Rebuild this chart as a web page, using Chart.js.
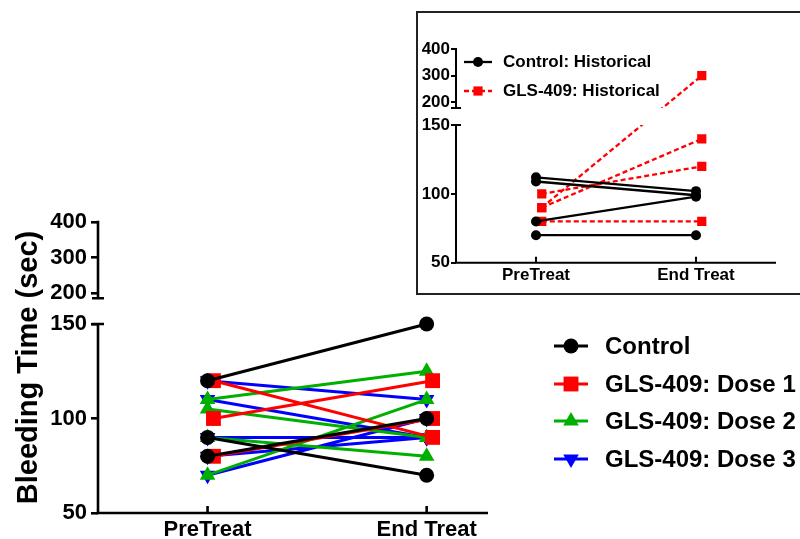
<!DOCTYPE html>
<html>
<head>
<meta charset="utf-8">
<script src="https://cdn.jsdelivr.net/npm/chart.js@4.4.1/dist/chart.umd.min.js"></script>
<style>
  html, body { margin: 0; padding: 0; background: #fff; }
  body { width: 800px; height: 539px; position: relative; overflow: hidden; font-family: Arial, "Liberation Sans", sans-serif; }
  #mainWrap { position: absolute; left: 0; top: 200px; width: 500px; height: 339px; }
  #insetBox { position: absolute; left: 416px; top: 11px; width: 400px; height: 284px; border: 2px solid #222; box-sizing: border-box; background: #fff; }
  #insetWrap { position: absolute; left: 417px; top: 12px; width: 383px; height: 282px; }
  .legend { position: absolute; font-weight: bold; color: #000; }
  .legend .row { display: flex; align-items: center; white-space: nowrap; }
  .legend canvas { display: block; }
  #mainLegend { left: 553px; top: 327px; font-size: 24px; }
  #mainLegend .row { height: 37.7px; }
  #mainLegend .txt { margin-left: 16px; }
  #insetLegend { left: 463px; top: 48px; font-size: 17px; }
  #insetLegend .row { height: 28.5px; }
  #insetLegend .txt { margin-left: 10px; }
</style>
</head>
<body>
<div id="mainWrap"><canvas id="mainChart"></canvas></div>
<div id="insetBox"></div>
<div id="insetWrap"><canvas id="insetChart"></canvas></div>
<div id="mainLegend" class="legend"></div>
<div id="insetLegend" class="legend"></div>
<script>
// Categories and tick labels
const xLabels = ['PreTreat', 'End Treat'];
const yTicks = [50, 100, 150, 200, 300, 400];

// Main panel: one line per subject, PreTreat -> End Treat
const groupNames = ['Control', 'GLS-409: Dose 1', 'GLS-409: Dose 2', 'GLS-409: Dose 3'];
const controlPre = [120, 90, 80];
const controlEnd = [150, 70, 100];
const dose1Pre = [120, 100, 80];
const dose1End = [90, 120, 100];
const dose2Pre = [110, 105, 90, 70];
const dose2End = [125, 90, 80, 110];
const dose3Pre = [120, 110, 90, 80, 70];
const dose3End = [110, 90, 90, 90, 100];

// Inset: historical data
const histNames = ['Control: Historical', 'GLS-409: Historical'];
const histControlPre = [112, 109, 80, 70];
const histControlEnd = [102, 99, 98, 70];
const histGlsPre = [100, 90, 90, 80];
const histGlsEnd = [120, 300, 140, 80];

const FONT = 'Arial, "Liberation Sans", sans-serif';
const BLACK = '#000000', RED = '#ff0000', GREEN = '#00b000', BLUE = '#0000ff';

// y axis with a break: lower part 50-150, upper part ~185-400
class BrokenScale extends Chart.LinearScale {
    static id = 'broken';
    _frac(v) {
        const segs = this.options.segments;
        const first = segs[0];
        if (v <= first.hi) return first.f0 + (v - first.lo) / (first.hi - first.lo) * (first.f1 - first.f0);
        for (let i = 1; i < segs.length; i++) {
            const p = segs[i - 1], s = segs[i];
            if (v < s.lo) return p.f1 + (v - p.hi) / (s.lo - p.hi) * (s.f0 - p.f1);
            if (v <= s.hi || i === segs.length - 1) return s.f0 + (v - s.lo) / (s.hi - s.lo) * (s.f1 - s.f0);
        }
    }
    getPixelForValue(value) {
        if (value === null || value === undefined || isNaN(value)) return NaN;
        return this.bottom - this._frac(value) * (this.bottom - this.top);
    }
    getValueForPixel(pixel) {
        const f = (this.bottom - pixel) / (this.bottom - this.top);
        const s = this.options.segments[0];
        return s.lo + (f - s.f0) / (s.f1 - s.f0) * (s.hi - s.lo);
    }
}
Chart.register(BrokenScale);

// draws the broken y axis, the x axis and inward x ticks; optionally hides lines inside the gap
const brokenAxis = {
    id: 'brokenAxis',
    beforeDatasetsDraw(chart, args, opts) {
        if (!opts.clipGap) return;
        const y = chart.scales.y, segs = y.options.segments, ctx = chart.ctx;
        const gapTop = y.getPixelForValue(segs[1].lo);
        const gapBottom = y.getPixelForValue(segs[0].hi);
        ctx.save();
        ctx.beginPath();
        ctx.rect(0, 0, chart.width, gapTop);
        ctx.rect(0, gapBottom, chart.width, chart.height - gapBottom);
        ctx.clip();
    },
    afterDatasetsDraw(chart, args, opts) {
        if (opts.clipGap) chart.ctx.restore();
    },
    afterDraw(chart, args, opts) {
        const ctx = chart.ctx, a = chart.chartArea, y = chart.scales.y, x = chart.scales.x;
        const segs = y.options.segments;
        ctx.save();
        ctx.strokeStyle = '#000';
        ctx.lineWidth = opts.width;
        ctx.beginPath();
        segs.forEach((s, i) => {
            const yb = y.getPixelForValue(s.lo), yt = y.getPixelForValue(s.hi);
            ctx.moveTo(a.left, yb + (i === 0 ? opts.width / 2 : 0));
            ctx.lineTo(a.left, yt - (i === segs.length - 1 ? opts.width / 2 : 0));
            if (i < segs.length - 1) {
                ctx.moveTo(a.left - opts.cap, yt);
                ctx.lineTo(a.left + opts.cap, yt);
            }
            if (i > 0) {
                ctx.moveTo(a.left - opts.cap, yb);
                ctx.lineTo(a.left + opts.cap, yb);
            }
        });
        ctx.moveTo(a.left - opts.width / 2, a.bottom);
        ctx.lineTo(a.right, a.bottom);
        x.ticks.forEach(t => {
            const px = x.getPixelForValue(t.value);
            ctx.moveTo(px, a.bottom);
            ctx.lineTo(px, a.bottom - opts.xTick);
        });
        ctx.stroke();
        ctx.restore();
    }
};

function pairs(pre, end) {
    const pts = [];
    pre.forEach((v, i) => {
        pts.push({x: 0, y: v}, {x: 1, y: end[i]}, {x: 1, y: null});
    });
    return pts;
}

function series(label, pre, end, color, style, extra) {
    return Object.assign({
        label: label,
        data: pairs(pre, end),
        borderColor: color,
        backgroundColor: color,
        pointBackgroundColor: color,
        pointBorderColor: color,
        pointBorderWidth: 0,
        pointStyle: style,
        spanGaps: false,
        tension: 0,
        fill: false
    }, extra);
}

function xAxis(min, max, size, pad, height) {
    return {
        type: 'linear', min: min, max: max,
        afterBuildTicks: s => { s.ticks = xLabels.map((l, i) => ({value: i})); },
        afterFit: s => { s.height = height; },
        border: {display: false},
        grid: {display: false, drawTicks: false},
        ticks: {
            autoSkip: false, maxRotation: 0, padding: pad, color: '#000',
            font: {family: FONT, size: size, weight: 'bold'},
            callback: (v, i) => xLabels[i]
        }
    };
}

function yAxis(segments, width, size, tickLen, pad, lineW, title) {
    return {
        type: 'broken', min: 50, max: 400,
        segments: segments,
        afterBuildTicks: s => { s.ticks = yTicks.map(v => ({value: v})); },
        afterFit: s => { s.width = width; },
        border: {display: false},
        grid: {display: true, drawOnChartArea: false, drawTicks: true, tickLength: tickLen,
               tickWidth: lineW, tickColor: '#000', color: '#000', lineWidth: lineW},
        ticks: {autoSkip: false, padding: pad, color: '#000',
                font: {family: FONT, size: size, weight: 'bold'},
                callback: v => String(v)},
        title: title
    };
}

// Main chart
const mainStyles = [
    {color: BLACK, style: 'circle', rot: 0, r: 7.5},
    {color: RED, style: 'rect', rot: 0, r: 10.5},
    {color: GREEN, style: 'triangle', rot: 0, r: 9},
    {color: BLUE, style: 'triangle', rot: 180, r: 9}
];
const mainData = [[controlPre, controlEnd], [dose1Pre, dose1End], [dose2Pre, dose2End], [dose3Pre, dose3End]];

new Chart(document.getElementById('mainChart'), {
    type: 'line',
    data: {
        datasets: mainData.map((d, i) => series(groupNames[i], d[0], d[1], mainStyles[i].color, mainStyles[i].style, {
            borderWidth: 3,
            pointRadius: mainStyles[i].r,
            pointRotation: mainStyles[i].rot,
            xAxisID: i === 1 ? 'xj' : 'x'
        }))
    },
    options: {
        responsive: true,
        maintainAspectRatio: false,
        animation: false,
        events: [],
        layout: {padding: {top: 22, right: 12, bottom: 0, left: 0}},
        plugins: {
            legend: {display: false},
            tooltip: {enabled: false},
            brokenAxis: {width: 2.6, cap: 6, xTick: 7, clipGap: false}
        },
        scales: {
            x: xAxis(-0.5, 1.28, 22, 4, 26),
            xj: {type: 'linear', display: false, min: -0.527, max: 1.253},
            y: yAxis([{lo: 50, hi: 150, f0: 0, f1: 0.6495}, {lo: 185, hi: 400, f0: 0.738, f1: 1}], 98, 22, 7, 4, 2.6, {
                display: true, text: 'Bleeding Time (sec)', color: '#000',
                font: {family: FONT, size: 29, weight: 'bold'}, padding: {top: 12, bottom: 0}
            })
        }
    },
    plugins: [brokenAxis]
});

// Inset chart
const histStyles = [
    {color: BLACK, style: 'circle', r: 5, dash: []},
    {color: RED, style: 'rect', r: 6.5, dash: [5, 3]}
];
const histData = [[histControlPre, histControlEnd], [histGlsPre, histGlsEnd]];

new Chart(document.getElementById('insetChart'), {
    type: 'line',
    data: {
        datasets: histData.map((d, i) => series(histNames[i], d[0], d[1], histStyles[i].color, histStyles[i].style, {
            borderWidth: 2.3,
            borderDash: histStyles[i].dash,
            pointRadius: histStyles[i].r,
            xAxisID: i === 1 ? 'xj' : 'x'
        }))
    },
    options: {
        responsive: true,
        maintainAspectRatio: false,
        animation: false,
        events: [],
        layout: {padding: {top: 37, right: 24, bottom: 0, left: 0}},
        plugins: {
            legend: {display: false},
            tooltip: {enabled: false},
            brokenAxis: {width: 2, cap: 5, xTick: 6, clipGap: true}
        },
        scales: {
            x: xAxis(-0.5, 1.5, 17, 2, 31.3),
            xj: {type: 'linear', display: false, min: -0.536, max: 1.464},
            y: yAxis([{lo: 50, hi: 150, f0: 0, f1: 0.644}, {lo: 178, hi: 400, f0: 0.724, f1: 1}], 39, 17, 5, 1, 2, {display: false})
        }
    },
    plugins: [brokenAxis]
});

// HTML legends with small line + marker icons
function legendIcon(w, h, st, lineW, dash) {
    const c = document.createElement('canvas');
    c.width = w; c.height = h;
    const ctx = c.getContext('2d');
    ctx.strokeStyle = st.color;
    ctx.fillStyle = st.color;
    ctx.lineWidth = lineW;
    ctx.setLineDash(dash || []);
    ctx.beginPath();
    ctx.moveTo(1, h / 2);
    ctx.lineTo(w - 1, h / 2);
    ctx.stroke();
    ctx.setLineDash([]);
    Chart.helpers.drawPoint(ctx, {pointStyle: st.style, rotation: st.rot || 0, radius: st.r, borderWidth: 0}, w / 2, h / 2);
    return c;
}

function buildLegend(el, names, styles, w, h, lineW) {
    names.forEach((name, i) => {
        const row = document.createElement('div');
        row.className = 'row';
        row.appendChild(legendIcon(w, h, styles[i], lineW, styles[i].dash));
        const txt = document.createElement('span');
        txt.className = 'txt';
        txt.textContent = name;
        row.appendChild(txt);
        el.appendChild(row);
    });
}

buildLegend(document.getElementById('mainLegend'), groupNames, mainStyles, 36, 24, 3);
buildLegend(document.getElementById('insetLegend'), histNames, histStyles, 30, 20, 2.3);
</script>
</body>
</html>
